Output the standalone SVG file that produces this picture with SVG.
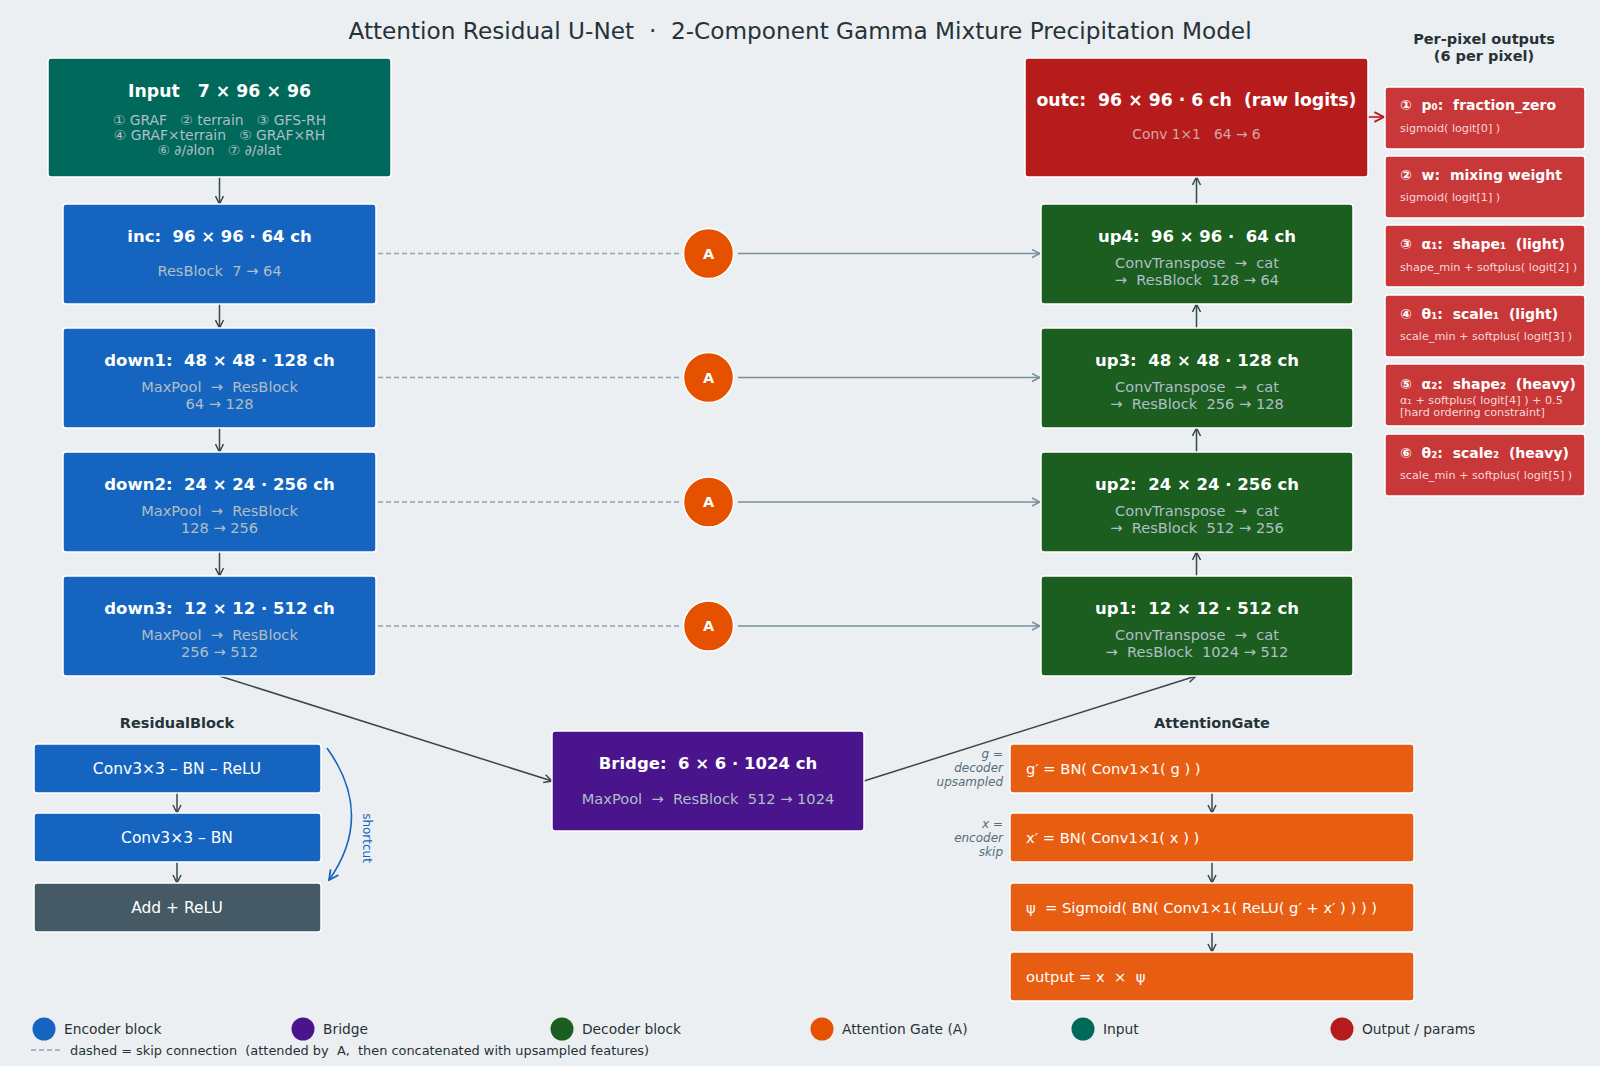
<svg xmlns="http://www.w3.org/2000/svg" width="1600" height="1066" viewBox="0 0 1600 1066" xml:space="preserve">
<style>
text{font-family:"DejaVu Sans","Liberation Sans",sans-serif;white-space:pre}
.bx{stroke:#ffffff;stroke-width:1.5}
.t{fill:#ffffff;font-weight:bold;font-size:16.5px;text-anchor:middle;dominant-baseline:central}
.s{fill:#b0bec5;font-size:14.6px;text-anchor:middle;dominant-baseline:central}
.pt{fill:#ffffff;font-weight:bold;font-size:14px;dominant-baseline:central}
.ps{fill:#f8d7da;font-size:11.2px;dominant-baseline:central}
.rb{fill:#ffffff;font-size:15.5px;text-anchor:middle;dominant-baseline:central}
.ag{fill:#ffffff;font-size:14.7px;dominant-baseline:central}
.side{fill:#546e7a;font-size:12px;font-style:italic;text-anchor:end;dominant-baseline:central}
.hd{fill:#263238;font-weight:bold;font-size:14.5px;text-anchor:middle;dominant-baseline:central}
.lg{fill:#263238;font-size:13.8px;dominant-baseline:central}
.enc{fill:#1565c0}.dec{fill:#1b5e20}.out{fill:#b71c1c}.inp{fill:#00695c}.brg{fill:#4a148c}
.par{fill:#c62828;fill-opacity:0.92}.agb{fill:#e65100;fill-opacity:0.92}
.c{stroke:#37474f;stroke-width:1.5;fill:none}
.sk{stroke:#78909c;stroke-width:1.5;fill:none}
.skd{stroke:#90a4ae;stroke-width:1.5;fill:none;stroke-dasharray:5,3}
.at{fill:#e65100;stroke:#ffffff;stroke-width:1.5}
.big{font-size:17.3px}.isub{font-size:13.9px}.al{font-size:14.5px}
</style>
<defs>
<marker id="ah" viewBox="0 0 10 10" refX="9" refY="5" markerWidth="10" markerHeight="10" markerUnits="userSpaceOnUse" orient="auto"><path d="M1,1 L9,5 L1,9" fill="none" stroke="#37474f" stroke-width="1.5"/></marker>
<marker id="ahs" viewBox="0 0 10 10" refX="9" refY="5" markerWidth="10" markerHeight="10" markerUnits="userSpaceOnUse" orient="auto"><path d="M1,1 L9,5 L1,9" fill="none" stroke="#78909c" stroke-width="1.5"/></marker>
<marker id="ahr" viewBox="0 0 10 10" refX="9" refY="5" markerWidth="12" markerHeight="12" markerUnits="userSpaceOnUse" orient="auto"><path d="M1,1 L9,5 L1,9" fill="none" stroke="#b71c1c" stroke-width="1.6"/></marker>
<marker id="ahb" viewBox="0 0 10 10" refX="9" refY="5" markerWidth="12" markerHeight="12" markerUnits="userSpaceOnUse" orient="auto"><path d="M1,1 L9,5 L1,9" fill="none" stroke="#1565c0" stroke-width="1.5"/></marker>
</defs>
<rect x="0" y="0" width="1600" height="1066" fill="#eceff1"/>
<text x="800" y="30" text-anchor="middle" dominant-baseline="central" font-size="23.2" fill="#263238">Attention Residual U-Net  ·  2-Component Gamma Mixture Precipitation Model</text>

<g id="connectors">
<line class="c" x1="219.5" y1="177" x2="219.5" y2="204" marker-end="url(#ah)"/>
<line class="c" x1="219.5" y1="304" x2="219.5" y2="328" marker-end="url(#ah)"/>
<line class="c" x1="219.5" y1="428" x2="219.5" y2="452" marker-end="url(#ah)"/>
<line class="c" x1="219.5" y1="552" x2="219.5" y2="576" marker-end="url(#ah)"/>
<line class="c" x1="219.5" y1="676" x2="552" y2="781" marker-end="url(#ah)"/>
<line class="c" x1="864" y1="781" x2="1196" y2="676" marker-end="url(#ah)"/>
<line class="c" x1="1196.5" y1="576" x2="1196.5" y2="552" marker-end="url(#ah)"/>
<line class="c" x1="1196.5" y1="452" x2="1196.5" y2="428" marker-end="url(#ah)"/>
<line class="c" x1="1196.5" y1="328" x2="1196.5" y2="304" marker-end="url(#ah)"/>
<line class="c" x1="1196.5" y1="204" x2="1196.5" y2="177" marker-end="url(#ah)"/>
<line x1="1368" y1="117" x2="1384" y2="117" stroke="#b71c1c" stroke-width="1.6" marker-end="url(#ahr)"/>
<line class="skd" x1="378" y1="253.5" x2="682" y2="253.5"/>
<line class="sk" x1="738" y1="253.5" x2="1040" y2="253.5" marker-end="url(#ahs)"/>
<line class="skd" x1="378" y1="377.5" x2="682" y2="377.5"/>
<line class="sk" x1="738" y1="377.5" x2="1040" y2="377.5" marker-end="url(#ahs)"/>
<line class="skd" x1="378" y1="502" x2="682" y2="502"/>
<line class="sk" x1="738" y1="502" x2="1040" y2="502" marker-end="url(#ahs)"/>
<line class="skd" x1="378" y1="626" x2="682" y2="626"/>
<line class="sk" x1="738" y1="626" x2="1040" y2="626" marker-end="url(#ahs)"/>
<line class="c" x1="177" y1="793" x2="177" y2="813" marker-end="url(#ah)"/>
<line class="c" x1="177" y1="862" x2="177" y2="883" marker-end="url(#ah)"/>
<path d="M327,748 Q375,815 329,880" stroke="#1565c0" stroke-width="1.6" fill="none" marker-end="url(#ahb)"/>
<line class="c" x1="1212" y1="793" x2="1212" y2="813" marker-end="url(#ah)"/>
<line class="c" x1="1212" y1="862" x2="1212" y2="883" marker-end="url(#ah)"/>
<line class="c" x1="1212" y1="932" x2="1212" y2="952" marker-end="url(#ah)"/>
</g>

<g id="input"><rect class="bx inp" x="48" y="58" width="343" height="119" rx="3"/>
<text class="t big" x="219.5" y="91">Input   7 × 96 × 96</text>
<text class="s isub" x="219.5" y="119.5">① GRAF   ② terrain   ③ GFS-RH</text>
<text class="s isub" x="219.5" y="134.5">④ GRAF×terrain   ⑤ GRAF×RH</text>
<text class="s isub" x="219.5" y="149.5">⑥ ∂/∂lon   ⑦ ∂/∂lat</text></g>

<g id="inc"><rect class="bx enc" x="63" y="204" width="313" height="100" rx="3"/>
<text class="t" x="219.5" y="236">inc:  96 × 96 · 64 ch</text>
<text class="s" x="219.5" y="270.5">ResBlock  7 → 64</text></g>

<g id="down1"><rect class="bx enc" x="63" y="328" width="313" height="100" rx="3"/>
<text class="t" x="219.5" y="360">down1:  48 × 48 · 128 ch</text>
<text class="s" x="219.5" y="386.5">MaxPool  →  ResBlock</text>
<text class="s" x="219.5" y="403">64 → 128</text></g>

<g id="down2"><rect class="bx enc" x="63" y="452" width="313" height="100" rx="3"/>
<text class="t" x="219.5" y="484">down2:  24 × 24 · 256 ch</text>
<text class="s" x="219.5" y="510.5">MaxPool  →  ResBlock</text>
<text class="s" x="219.5" y="527">128 → 256</text></g>

<g id="down3"><rect class="bx enc" x="63" y="576" width="313" height="100" rx="3"/>
<text class="t" x="219.5" y="608">down3:  12 × 12 · 512 ch</text>
<text class="s" x="219.5" y="634.5">MaxPool  →  ResBlock</text>
<text class="s" x="219.5" y="651">256 → 512</text></g>

<g id="bridge"><rect class="bx brg" x="552" y="731" width="312" height="100" rx="3"/>
<text class="t" x="708" y="763">Bridge:  6 × 6 · 1024 ch</text>
<text class="s" x="708" y="798">MaxPool  →  ResBlock  512 → 1024</text></g>

<g id="up1"><rect class="bx dec" x="1041" y="576" width="312" height="100" rx="3"/>
<text class="t" x="1197" y="608">up1:  12 × 12 · 512 ch</text>
<text class="s" x="1197" y="634.5">ConvTranspose  →  cat</text>
<text class="s" x="1197" y="651">→  ResBlock  1024 → 512</text></g>

<g id="up2"><rect class="bx dec" x="1041" y="452" width="312" height="100" rx="3"/>
<text class="t" x="1197" y="484">up2:  24 × 24 · 256 ch</text>
<text class="s" x="1197" y="510.5">ConvTranspose  →  cat</text>
<text class="s" x="1197" y="527">→  ResBlock  512 → 256</text></g>

<g id="up3"><rect class="bx dec" x="1041" y="328" width="312" height="100" rx="3"/>
<text class="t" x="1197" y="360">up3:  48 × 48 · 128 ch</text>
<text class="s" x="1197" y="386.5">ConvTranspose  →  cat</text>
<text class="s" x="1197" y="403">→  ResBlock  256 → 128</text></g>

<g id="up4"><rect class="bx dec" x="1041" y="204" width="312" height="100" rx="3"/>
<text class="t" x="1197" y="236">up4:  96 × 96 ·  64 ch</text>
<text class="s" x="1197" y="262.5">ConvTranspose  →  cat</text>
<text class="s" x="1197" y="279">→  ResBlock  128 → 64</text></g>

<g id="outc"><rect class="bx out" x="1025" y="58" width="343" height="119" rx="3"/>
<text class="t big" x="1196.5" y="100">outc:  96 × 96 · 6 ch  (raw logits)</text>
<text class="s" x="1196.5" y="134" style="font-size:13.8px;fill:#d0a8a8">Conv 1×1   64 → 6</text></g>

<g id="attn">
<g id="att1"><circle class="at" cx="708.5" cy="253.5" r="25"/><text x="708.5" y="253.5" class="t al">A</text></g>
<g id="att2"><circle class="at" cx="708.5" cy="377.5" r="25"/><text x="708.5" y="377.5" class="t al">A</text></g>
<g id="att3"><circle class="at" cx="708.5" cy="502" r="25"/><text x="708.5" y="502" class="t al">A</text></g>
<g id="att4"><circle class="at" cx="708.5" cy="626" r="25"/><text x="708.5" y="626" class="t al">A</text></g>
</g>

<g id="outputs">
<text class="hd" x="1484" y="39">Per-pixel outputs</text>
<text class="hd" x="1484" y="56">(6 per pixel)</text>
<g id="p1"><rect class="bx par" x="1385" y="87" width="200" height="62" rx="3"/><text class="pt" x="1400" y="105">①  p₀:  fraction_zero</text><text class="ps" x="1400" y="128.5">sigmoid( logit[0] )</text></g>
<g id="p2"><rect class="bx par" x="1385" y="156" width="200" height="62" rx="3"/><text class="pt" x="1400" y="175">②  w:  mixing weight</text><text class="ps" x="1400" y="197.5">sigmoid( logit[1] )</text></g>
<g id="p3"><rect class="bx par" x="1385" y="225" width="200" height="62" rx="3"/><text class="pt" x="1400" y="244">③  α₁:  shape₁  (light)</text><text class="ps" x="1400" y="267">shape_min + softplus( logit[2] )</text></g>
<g id="p4"><rect class="bx par" x="1385" y="295" width="200" height="62" rx="3"/><text class="pt" x="1400" y="314">④  θ₁:  scale₁  (light)</text><text class="ps" x="1400" y="336.5">scale_min + softplus( logit[3] )</text></g>
<g id="p5"><rect class="bx par" x="1385" y="364" width="200" height="62" rx="3"/><text class="pt" x="1400" y="383.5">⑤  α₂:  shape₂  (heavy)</text><text class="ps" x="1400" y="400">α₁ + softplus( logit[4] ) + 0.5</text><text class="ps" x="1400" y="412.5">[hard ordering constraint]</text></g>
<g id="p6"><rect class="bx par" x="1385" y="434" width="200" height="62" rx="3"/><text class="pt" x="1400" y="453">⑥  θ₂:  scale₂  (heavy)</text><text class="ps" x="1400" y="475.5">scale_min + softplus( logit[5] )</text></g>
</g>

<g id="resblock">
<text class="hd" x="177" y="723">ResidualBlock</text>
<g id="rb1"><rect class="bx enc" x="34" y="744" width="287" height="49" rx="3"/><text class="rb" x="177" y="768.5">Conv3×3 – BN – ReLU</text></g>
<g id="rb2"><rect class="bx enc" x="34" y="813" width="287" height="49" rx="3"/><text class="rb" x="177" y="837.5">Conv3×3 – BN</text></g>
<g id="rb3"><rect class="bx" fill="#455a64" x="34" y="883" width="287" height="49" rx="3"/><text class="rb" x="177" y="907.5">Add + ReLU</text></g>
<text x="367" y="838" fill="#1565c0" font-size="12" text-anchor="middle" dominant-baseline="central" transform="rotate(90 367 838)">shortcut</text>
</g>

<g id="attgate">
<text class="hd" x="1212" y="723">AttentionGate</text>
<text class="side" x="1003" y="754">g =</text><text class="side" x="1003" y="768">decoder</text><text class="side" x="1003" y="782">upsampled</text>
<text class="side" x="1003" y="824">x =</text><text class="side" x="1003" y="838">encoder</text><text class="side" x="1003" y="852">skip</text>
<g id="ag1"><rect class="bx agb" x="1010" y="744" width="404" height="49" rx="3"/><text class="ag" x="1026" y="768.5">g′ = BN( Conv1×1( g ) )</text></g>
<g id="ag2"><rect class="bx agb" x="1010" y="813" width="404" height="49" rx="3"/><text class="ag" x="1026" y="837.5">x′ = BN( Conv1×1( x ) )</text></g>
<g id="ag3"><rect class="bx agb" x="1010" y="883" width="404" height="49" rx="3"/><text class="ag" x="1026" y="907.5">ψ  = Sigmoid( BN( Conv1×1( ReLU( g′ + x′ ) ) ) )</text></g>
<g id="ag4"><rect class="bx agb" x="1010" y="952" width="404" height="49" rx="3"/><text class="ag" x="1026" y="976.5">output = x  ×  ψ</text></g>
</g>

<g id="legend">
<circle cx="44" cy="1029" r="11.5" fill="#1565c0"/><text class="lg" x="64" y="1029">Encoder block</text>
<circle cx="303" cy="1029" r="11.5" fill="#4a148c"/><text class="lg" x="323" y="1029">Bridge</text>
<circle cx="562" cy="1029" r="11.5" fill="#1b5e20"/><text class="lg" x="582" y="1029">Decoder block</text>
<circle cx="822" cy="1029" r="11.5" fill="#e65100"/><text class="lg" x="842" y="1029">Attention Gate (A)</text>
<circle cx="1083" cy="1029" r="11.5" fill="#00695c"/><text class="lg" x="1103" y="1029">Input</text>
<circle cx="1342" cy="1029" r="11.5" fill="#b71c1c"/><text class="lg" x="1362" y="1029">Output / params</text>
<line x1="31" y1="1050" x2="62" y2="1050" stroke="#90a4ae" stroke-width="1.5" stroke-dasharray="5,3"/>
<text class="lg" x="70" y="1050" style="font-size:12.9px">dashed = skip connection  (attended by  A,  then concatenated with upsampled features)</text>
</g>
</svg>
